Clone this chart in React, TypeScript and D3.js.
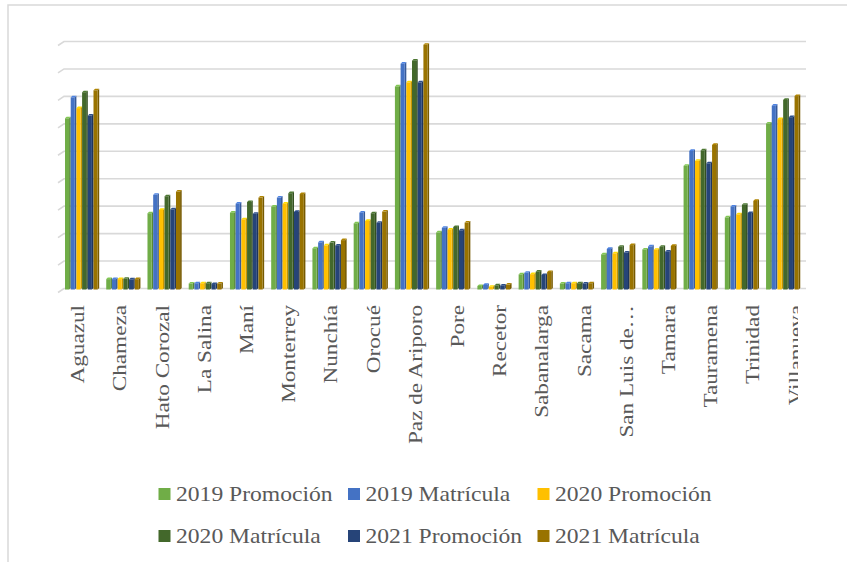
import React from "react";
import * as d3 from "d3";

const categories = [
  "Aguazul", "Chameza", "Hato Corozal", "La Salina", "Maní", "Monterrey", "Nunchía", "Orocué",
  "Paz de Ariporo", "Pore", "Recetor", "Sabanalarga", "Sacama", "San Luis de…", "Tamara",
  "Tauramena", "Trinidad", "Villanueva",
];

const seriesNames = [
  "2019 Promoción", "2019 Matrícula", "2020 Promoción", "2020 Matrícula", "2021 Promoción", "2021 Matrícula",
];

const promo2019 = [626, 40, 280, 24, 282, 304, 152, 243, 742, 210, 15, 57, 24, 130, 148, 453, 265, 607];
const matri2019 = [702, 40, 347, 25, 315, 337, 174, 282, 825, 227, 19, 63, 25, 150, 159, 507, 304, 672];
const promo2020 = [663, 40, 292, 25, 258, 315, 163, 252, 757, 220, 12, 58, 25, 134, 147, 471, 276, 623];
const matri2020 = [721, 41, 342, 25, 321, 353, 173, 280, 836, 230, 17, 67, 25, 158, 158, 509, 311, 693];
const promo2021 = [636, 39, 294, 22, 278, 285, 162, 245, 757, 218, 16, 55, 24, 137, 140, 462, 281, 630];
const matri2021 = [728, 40, 359, 24, 337, 350, 182, 286, 894, 246, 20, 66, 25, 164, 161, 529, 325, 707];

const seriesValues = [promo2019, matri2019, promo2020, matri2020, promo2021, matri2021];
const colors = ["#70AD47", "#4472C4", "#FFC000", "#43682B", "#264478", "#997300"];
const gridTicks = [0, 100, 200, 300, 400, 500, 600, 700, 800, 900];

const W = 847;
const H = 562;
const FONT = "Liberation Serif, Times New Roman, DejaVu Serif, serif";

export default function App() {
  const y = d3.scaleLinear().domain([0, 900]).range([288.5, 41.5]);
  const x0 = d3.scaleBand<string>().domain(categories).range([61.6, 803.9]).padding(0);
  const x1 = d3.scaleBand<string>().domain(seriesNames).range([3.4, 37.6]).padding(0);
  const xl = d3.scalePoint<string>().domain(categories).range([80, 80 + 17 * 42.2]);
  const depth = 1.6;
  const step = x1.bandwidth();
  const fw = step - depth;
  const base = 289.5;

  const legendCols = [176, 365.5, 555];
  const legendRows = [501, 543];

  return (
    <svg
      width={W}
      height={H}
      style={{ position: "absolute", left: 0, top: 0, background: "#fff" }}
    >
      <defs>
        <clipPath id="lblclip">
          <rect x={0} y={0} width={798} height={H} />
        </clipPath>
      </defs>
      <rect x={0} y={0} width={W} height={H} fill="#fff" />
      <rect x={8} y={5} width={900} height={700} fill="none" stroke="#D9D9D9" strokeWidth={1.5} />

      {gridTicks.map((t) => {
        const yy = y(t);
        return (
          <path
            key={t}
            d={`M58,${yy + 4} L64,${yy} L806,${yy}`}
            fill="none"
            stroke="#D9D9D9"
            strokeWidth={1.6}
          />
        );
      })}

      {categories.map((c, ci) => (
        <g key={c}>
          {seriesNames.map((s, si) => {
            const v = seriesValues[si][ci];
            const bx = (x0(c) as number) + (x1(s) as number);
            const top = y(v) + depth;
            const col = d3.color(colors[si])!;
            const dark = col.darker(0.7).toString();
            const light = col.brighter(0.4).toString();
            return (
              <g key={s}>
                <polygon
                  points={`${bx + fw},${top} ${bx + fw + depth},${top - depth} ${bx + fw + depth},${base - depth} ${bx + fw},${base}`}
                  fill={dark}
                />
                <polygon
                  points={`${bx},${top} ${bx + depth},${top - depth} ${bx + fw + depth},${top - depth} ${bx + fw},${top}`}
                  fill={light}
                />
                <rect x={bx} y={top} width={fw} height={Math.max(0, base - top)} fill={colors[si]} />
              </g>
            );
          })}
        </g>
      ))}

      <g clipPath="url(#lblclip)">
        {categories.map((c) => {
          const cx = xl(c) as number;
          return (
            <text
              key={c}
              transform={`translate(${cx + 4.2},305) scale(1,1.22) rotate(-90)`}
              textAnchor="end"
              style={{ fontFamily: FONT, fontSize: "19px" }}
              fill="#595959"
            >
              {c}
            </text>
          );
        })}
      </g>

      {seriesNames.map((s, i) => {
        const lx = legendCols[i % 3];
        const ly = legendRows[Math.floor(i / 3)];
        return (
          <g key={s}>
            <rect x={lx - 17.5} y={ly - 13} width={12} height={12} fill={colors[i]} />
            <text
              transform={`translate(${lx},${ly}) scale(1.18,1)`}
              style={{ fontFamily: FONT, fontSize: "20px" }}
              fill="#595959"
            >
              {s}
            </text>
          </g>
        );
      })}
    </svg>
  );
}
